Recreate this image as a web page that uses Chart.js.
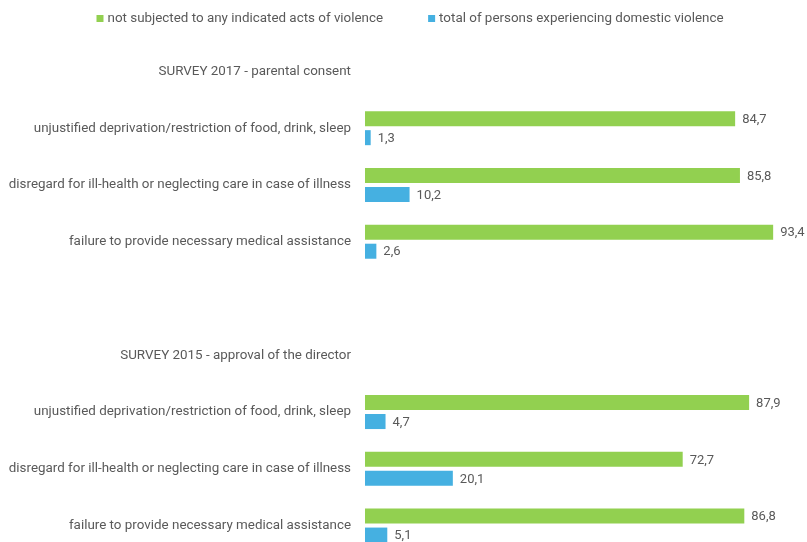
<!DOCTYPE html>
<html lang="en">
<head>
    <meta charset="UTF-8">
    <title>Neglect indicators - survey 2017 and 2015</title>
    <script src="https://cdn.jsdelivr.net/npm/chart.js"></script>
    <style>
        html, body {
            margin: 0;
            padding: 0;
            background: #fff;
            overflow: hidden;
        }
    </style>
</head>
<body>
    <canvas id="neglectChart" width="807" height="576"></canvas>
<script>
    // categories, top to bottom (survey headers are plain rows without bars)
    const categories = [
        'SURVEY 2017 - parental consent',
        'unjustified deprivation/restriction of food, drink, sleep',
        'disregard for ill-health or neglecting care in case of illness',
        'failure to provide necessary medical assistance',
        '',
        'SURVEY 2015 - approval of the director',
        'unjustified deprivation/restriction of food, drink, sleep',
        'disregard for ill-health or neglecting care in case of illness',
        'failure to provide necessary medical assistance'
    ];
    const notSubjected = [null, 84.7, 85.8, 93.4, null, null, 87.9, 72.7, 86.8];
    const domesticViolence = [null, 1.3, 10.2, 2.6, null, null, 4.7, 20.1, 5.1];
    const seriesNames = [
        'not subjected to any indicated acts of violence',
        'total of persons experiencing domestic violence'
    ];

    const textColor = '#595959';
    const fontFamily = 'Roboto, "Liberation Sans", sans-serif';

    // value labels to the right of each bar, decimal comma
    const valueLabels = {
        id: 'valueLabels',
        afterDatasetsDraw(chart) {
            const ctx = chart.ctx;
            ctx.save();
            ctx.font = '13px ' + fontFamily;
            ctx.fillStyle = textColor;
            ctx.textAlign = 'left';
            ctx.textBaseline = 'middle';
            chart.data.datasets.forEach((ds, i) => {
                chart.getDatasetMeta(i).data.forEach((bar, j) => {
                    const v = ds.data[j];
                    if (v === null) return;
                    ctx.fillText(v.toFixed(1).replace('.', ','), bar.x + 7, bar.y + 1);
                });
            });
            ctx.restore();
        }
    };

    // small square legend across the top
    const topLegend = {
        id: 'topLegend',
        afterDraw(chart) {
            const ctx = chart.ctx;
            ctx.save();
            ctx.font = '13.4px ' + fontFamily;
            ctx.textBaseline = 'middle';
            const box = 7, gap = 4, itemGap = 45;
            const items = chart.data.datasets.map(ds => ({
                text: ds.label, color: ds.backgroundColor, w: ctx.measureText(ds.label).width
            }));
            let total = 0;
            items.forEach((it, i) => { total += box + gap + it.w + (i ? itemGap : 0); });
            let x = 410 - total / 2;
            const y = 18.5;
            items.forEach(it => {
                ctx.fillStyle = it.color;
                ctx.fillRect(x, y - box / 2, box, box);
                x += box + gap;
                ctx.fillStyle = textColor;
                ctx.fillText(it.text, x, y + 0.5);
                x += it.w + itemGap;
            });
            ctx.restore();
        }
    };

    const ctx = document.getElementById('neglectChart').getContext('2d');
    new Chart(ctx, {
        type: 'bar',
        data: {
            labels: categories,
            datasets: [{
                label: seriesNames[0],
                data: notSubjected,
                backgroundColor: '#92D050'
            }, {
                label: seriesNames[1],
                data: domesticViolence,
                backgroundColor: '#45B0E1'
            }]
        },
        options: {
            indexAxis: 'y',
            responsive: false,
            animation: false,
            categoryPercentage: 0.67,
            barPercentage: 0.79,
            layout: {
                padding: { top: 43, right: 5, bottom: 0, left: 0 }
            },
            plugins: {
                legend: { display: false },
                tooltip: { enabled: false }
            },
            scales: {
                x: {
                    display: false,
                    min: 0,
                    max: 100
                },
                y: {
                    grid: { display: false, drawTicks: false },
                    border: { display: false },
                    afterFit(scale) { scale.width = 365; },
                    ticks: {
                        color: textColor,
                        padding: 14,
                        font: { family: fontFamily, size: 13.4 }
                    }
                }
            }
        },
        plugins: [valueLabels, topLegend]
    });
</script>
</body>
</html>
